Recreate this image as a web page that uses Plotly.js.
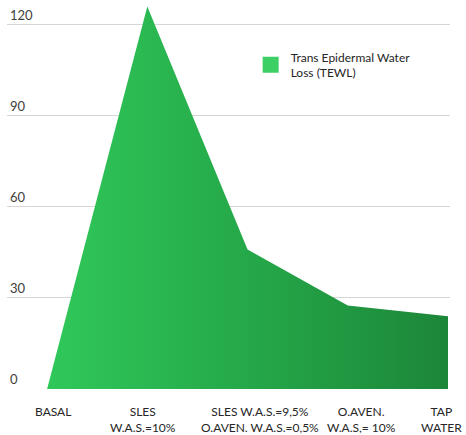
<!DOCTYPE html>
<html>
<head>
<meta charset="utf-8">
<script src="https://cdn.plot.ly/plotly-3.0.1.min.js"></script>
<style>
  html, body { margin: 0; padding: 0; background: #fff; }
  #chart { width: 466px; height: 435px; }
</style>
</head>
<body>
<div id="chart"></div>
<script>
// Treatments along the x axis (two-line labels)
const categories = [
  'BASAL',
  'SLES<br>W.A.S.=10%',
  'SLES W.A.S.=9,5%<br>O.AVEN. W.A.S.=0,5%',
  'O.AVEN.<br>W.A.S,= 10%',
  'TAP<br>WATER'
];
// Trans Epidermal Water Loss per treatment
const tewl = [0, 126, 46, 27.5, 24];
const seriesName = 'Trans Epidermal Water<br>Loss (TEWL)';
const yTicks = [0, 30, 60, 90, 120];

// Horizontal nudges (px) so the outer labels stay inside the page
const labelNudge = [6, -4, 12, 14, -7];

const xIndex = categories.map((_, i) => i);

const area = {
  x: xIndex,
  y: tewl,
  type: 'scatter',
  mode: 'none',
  fill: 'tozeroy',
  fillcolor: '#27ad4c',
  fillgradient: {
    type: 'horizontal',
    colorscale: [[0, '#30c85a'], [0.5, '#25a849'], [1, '#1c8638']]
  },
  showlegend: false,
  hoverinfo: 'x+y'
};

// Legend swatch
const legendKey = {
  x: [null],
  y: [null],
  type: 'scatter',
  mode: 'markers',
  name: seriesName,
  marker: { symbol: 'square', size: 16, color: '#3ccf63' },
  showlegend: true
};

// Category labels under the plot
const categoryLabels = categories.map((txt, i) => ({
  x: i,
  xref: 'x',
  y: 0,
  yref: 'paper',
  yanchor: 'top',
  xanchor: 'center',
  align: 'center',
  xshift: labelNudge[i],
  yshift: -13,
  showarrow: false,
  text: txt,
  font: { size: 12, color: '#262626' }
}));

const layout = {
  width: 466,
  height: 435,
  margin: { l: 7, r: 16, t: 2, b: 46 },
  paper_bgcolor: '#ffffff',
  plot_bgcolor: '#ffffff',
  font: { family: 'Lato, "Open Sans", sans-serif', color: '#262626' },
  showlegend: true,
  legend: {
    x: 0.55, y: 0.895, xanchor: 'left', yanchor: 'top',
    bgcolor: 'rgba(0,0,0,0)',
    font: { size: 12, color: '#262626' },
    itemsizing: 'trace'
  },
  annotations: categoryLabels,
  xaxis: {
    range: [-0.4, 4.02],
    showticklabels: false,
    showgrid: false,
    zeroline: false,
    showline: false,
    ticks: '',
    fixedrange: true
  },
  yaxis: {
    range: [0, 127.5],
    tickmode: 'array',
    tickvals: yTicks,
    ticktext: yTicks.map(String),
    ticklabelposition: 'inside top',
    showgrid: true,
    gridcolor: '#d6d6d6',
    gridwidth: 1,
    zeroline: false,
    showline: false,
    ticks: '',
    tickfont: { size: 13, color: '#404040' },
    fixedrange: true
  }
};

Plotly.newPlot('chart', [area, legendKey], layout, { displayModeBar: false, staticPlot: true });
</script>
</body>
</html>
